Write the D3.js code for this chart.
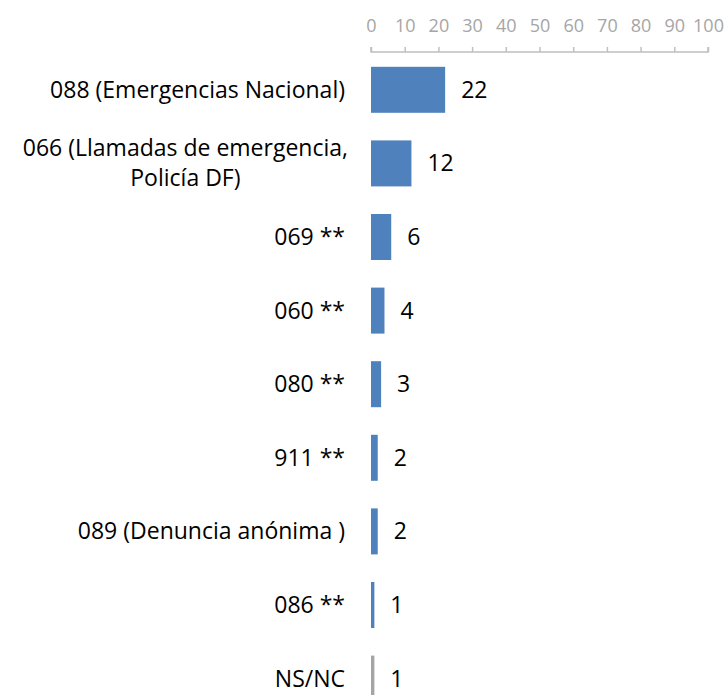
<html>
<head>
  <style>
    body { margin: 0; background: white; }
    text { font-family: "Open Sans", Lato, sans-serif; }
  </style>
  <script src="https://d3js.org/d3.v7.min.js"></script>
</head>
<body>
<script type="text/javascript">
// data
var categories = ["088 (Emergencias Nacional)", "066 (Llamadas de emergencia,|Policía DF)", "069 **", "060 **", "080 **", "911 **", "089 (Denuncia anónima )", "086 **", "NS/NC"];
var values = [22, 12, 6, 4, 3, 2, 2, 1, 1];
var barColors = ["#4F81BD", "#4F81BD", "#4F81BD", "#4F81BD", "#4F81BD", "#4F81BD", "#4F81BD", "#4F81BD", "#A5A5A5"];
var tickValues = [0, 10, 20, 30, 40, 50, 60, 70, 80, 90, 100];

var screen = {width: 727, height: 695};
var axisY = 52;
var labelRight = 345;
var fontSize = "23px";

var xScale = d3.scaleLinear()
  .domain([0, 100])
  .range([371, 708]);

var yScale = d3.scaleBand()
  .domain(d3.range(categories.length))
  .range([axisY + 1, axisY + 1 + 73.6 * categories.length])
  .paddingInner(0.375)
  .paddingOuter(0.1875);

var svg = d3.select("body").append("svg")
  .attr("width", screen.width)
  .attr("height", screen.height);

// top axis
var xAxis = d3.axisTop(xScale)
  .tickValues(tickValues)
  .tickSize(5)
  .tickPadding(15);

var gx = svg.append("g")
  .attr("transform", "translate(0," + axisY + ")")
  .call(xAxis);
gx.select(".domain").attr("stroke", "#BFBFBF").attr("stroke-width", 1.5)
  .attr("d", "M" + xScale(0) + ",-5V0H" + xScale(100) + "V-5");
gx.selectAll(".tick line").attr("stroke", "#BFBFBF").attr("stroke-width", 1.5);
gx.selectAll(".tick text")
  .attr("fill", "#A6A6A6")
  .style("font-size", "18px");

// bars
svg.selectAll("rect.bar")
  .data(values)
  .enter()
  .append("rect")
  .attr("class", "bar")
  .attr("x", xScale(0))
  .attr("y", function(d, i) { return yScale(i); })
  .attr("width", function(d) { return xScale(d) - xScale(0); })
  .attr("height", yScale.bandwidth())
  .attr("fill", function(d, i) { return barColors[i]; });

// value labels
svg.selectAll("text.val")
  .data(values)
  .enter()
  .append("text")
  .attr("class", "val")
  .attr("x", function(d) { return xScale(d) + 16; })
  .attr("y", function(d, i) { return yScale(i) + yScale.bandwidth() / 2 + 8; })
  .style("font-size", fontSize)
  .attr("fill", "#000")
  .text(function(d) { return d; });

// category labels
categories.forEach(function(c, i) {
  var cy = yScale(i) + yScale.bandwidth() / 2;
  var lines = c.split("|");
  if (lines.length == 1) {
    svg.append("text")
      .attr("x", labelRight)
      .attr("y", cy + 8)
      .attr("text-anchor", "end")
      .style("font-size", fontSize)
      .text(lines[0]);
  } else {
    var first = svg.append("text")
      .attr("x", labelRight + 3)
      .attr("y", cy - 15 + 8)
      .attr("text-anchor", "end")
      .style("font-size", fontSize)
      .text(lines[0]);
    var w = first.node().getComputedTextLength();
    svg.append("text")
      .attr("x", labelRight + 3 - w / 2)
      .attr("y", cy + 15 + 8)
      .attr("text-anchor", "middle")
      .style("font-size", fontSize)
      .text(lines[1]);
  }
});
</script>
</body>
</html>
